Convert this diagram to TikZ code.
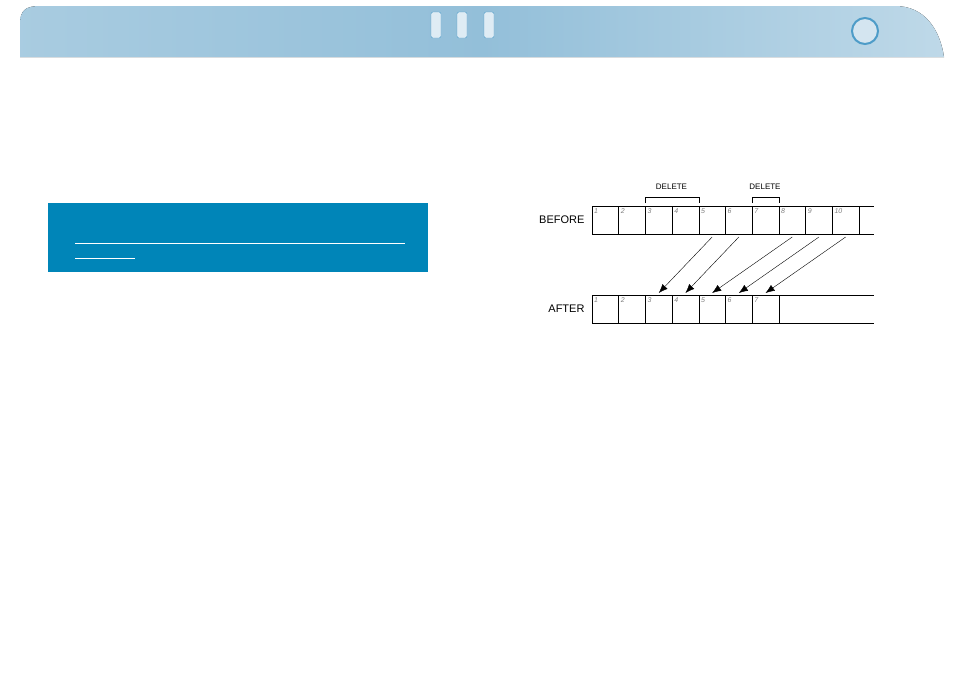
\documentclass[tikz,border=0pt]{standalone}
\usepackage{fontspec}
\setmainfont{Liberation Sans}
\usetikzlibrary{arrows.meta,calc}
\definecolor{barblue}{HTML}{93BFD9}
\definecolor{boxblue}{HTML}{0085B8}
\definecolor{ringblue}{HTML}{4E9CC8}
\tikzset{
    cell/.style={draw,semithick,minimum width=26.7pt,minimum height=28pt,inner sep=0pt,outer sep=0pt},
    num/.style={font=\fontsize{7}{7}\selectfont\itshape,text=gray,anchor=north west,inner sep=2pt},
    rowlabel/.style={font=\fontsize{11}{11}\selectfont,anchor=east},
    dellabel/.style={font=\fontsize{8}{8}\selectfont}
}
\begin{document}
\begin{tikzpicture}[x=1pt,y=-1pt]
    \useasboundingbox (0,0) rectangle (954,675);
    \fill [white] (0,0) rectangle (954,675);

    % header bar
    \fill [left color=barblue!80,right color=barblue!60,middle color=barblue]
        (20,57) -- (20,24) .. controls (20,10) and (26,6) .. (40,6)
        -- (895,6) .. controls (925,6) and (940,30) .. (944,57) -- cycle;
    \foreach \tx in {436,462,489}
        \draw [ringblue,fill=white!70!barblue,rounded corners=2pt] (\tx-5,12) rectangle (\tx+5,38);
    \draw [ringblue,line width=2pt,fill=white!60!barblue] (865,31) circle [radius=13];

    % info box
    \fill [boxblue] (48,203) rectangle (428,272);
    \draw [white] (75,243) -- (405,243);
    \draw [white] (75,258) -- (135,258);

    % before row
    \foreach \i in {1,...,10} {
        \node [cell] (b\i) at (592+26.7*\i-13.35,220) {};
        \node [num] at (b\i.north west) {\i};
    }
    \draw [semithick] (b10.north east) -- ++(15,0);
    \draw [semithick] (b10.south east) -- ++(15,0);
    \node [rowlabel] (before) at (588,220) {BEFORE};

    % after row
    \foreach \i in {1,...,7} {
        \node [cell] (a\i) at (592+26.7*\i-13.35,309) {};
        \node [num] at (a\i.north west) {\i};
    }
    \draw [semithick] (a7.north east) -- (874,295);
    \draw [semithick] (a7.south east) -- (874,323);
    \node [rowlabel] (after) at (588,309) {AFTER};

    % deletions
    \draw ($(b3.north west)+(0,-3)$) -- ++(0,-6) -| ($(b4.north east)+(0,-3)$);
    \node [dellabel] (del1) at (671.5,187) {DELETE};
    \draw ($(b7.north west)+(0,-3)$) -- ++(0,-6) -| ($(b7.north east)+(0,-3)$);
    \node [dellabel] (del2) at (765,187) {DELETE};

    % moves
    \foreach \s/\t in {5/3,6/4,8/5,9/6,10/7}
        \draw [-{Latex[length=9pt,width=7pt]}] ($(b\s.south)+(0,3)$)
            -- ($(a\t.north)+(0,-2)$);
\end{tikzpicture}
\end{document}
